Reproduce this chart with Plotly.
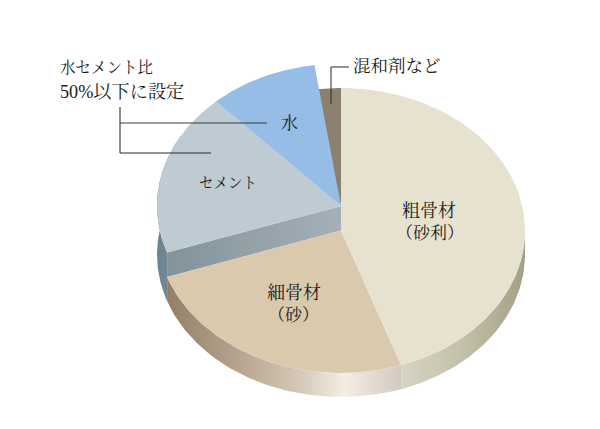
import numpy as np
import plotly.graph_objects as go

# concrete mix shares (%), clockwise from 12 o'clock
categories = ["粗骨材", "細骨材", "セメント", "水", "混和剤など"]
shares = [44.7, 25.0, 18.4, 9.6, 2.3]
top_colors = ["#e7e2d0", "#dbc9ae", "#bfcbd2", "#95bde6", "#8b806d"]

note_lines = ["水セメント比", "50%以下に設定"]

# pie geometry on the pixel-like axes
CX, RX, RY = 341, 184, 142.5
LOW_Y = 230.5    # top face of gravel / sand
RAISED_Y = 206   # top face of cement / water
BASE_Y = 254.5   # bottom of the cylinder

FONT = "Liberation Serif, Noto Serif CJK JP, Noto Sans CJK JP"
INK = "#1c1b1a"

edges = np.concatenate([[0], np.cumsum(shares)]) / np.sum(shares) * 360
fig = go.Figure()


def rim(t0, t1, cy):
    t = np.radians(np.linspace(t0, t1, 80))
    return CX + RX * np.sin(t), cy - RY * np.cos(t)


def add_poly(xs, ys, color=None, scale=None):
    trace = dict(x=xs, y=ys, mode="lines", fill="toself", line=dict(width=0),
                 hoverinfo="skip", showlegend=False)
    if scale:
        trace["fillgradient"] = dict(type="horizontal", colorscale=scale)
    else:
        trace["fillcolor"] = color
    fig.add_trace(go.Scatter(**trace))


def add_wall(t0, t1, top_y, scale):
    x1, y1 = rim(t0, t1, top_y)
    x2, y2 = rim(t1, t0, BASE_Y)
    add_poly(np.r_[x1, x2], np.r_[y1, y2], scale=scale)


def add_face(t0, t1, cy, color, apex_y=None):
    xs, ys = rim(t0, t1, cy)
    add_poly(np.r_[CX, xs], np.r_[cy if apex_y is None else apex_y, ys], color=color)


# outer walls
add_wall(90, edges[1], LOW_Y, [[0, "#d6d4c3"], [0.5, "#c3c0a9"], [1, "#a3a085"]])
add_wall(edges[1], edges[2], LOW_Y,
         [[0, "#937f67"], [0.3, "#b5a48e"], [0.55, "#d2c6b4"], [0.76, "#f4eee4"], [1, "#d2c8bf"]])
add_wall(edges[2], 300, RAISED_Y, [[0, "#6c818e"], [1, "#7f939f"]])

# cut face between the raised cement and the sand
xa, ya = rim(edges[2], edges[2], RAISED_Y)
xb, yb = rim(edges[2], edges[2], LOW_Y)
add_poly([CX, xa[0], xb[0], CX], [RAISED_Y, ya[0], yb[0], LOW_Y],
         scale=[[0, "#83939b"], [1, "#a5b0b8"]])

# top faces
add_face(edges[4], 360, LOW_Y, top_colors[4], apex_y=RAISED_Y)
add_face(edges[1], edges[2], LOW_Y, top_colors[1])
add_face(edges[0], edges[1], LOW_Y, top_colors[0])
add_face(edges[2], edges[3], RAISED_Y, top_colors[2])
add_face(edges[3], edges[4], RAISED_Y, top_colors[3])

# leader lines
leaders = [
    ([120, 120], [107, 153], "#666666", 1.5),
    ([120, 267], [123, 123], "#3a3a3a", 1),
    ([120, 211], [153, 153], "#2b2a28", 1),
    ([331, 331, 349], [104, 67, 67], "#2b2a28", 1),
]
for xs, ys, col, w in leaders:
    fig.add_trace(go.Scatter(x=xs, y=ys, mode="lines", line=dict(color=col, width=w),
                             hoverinfo="skip", showlegend=False))

labels = [
    (428.5, 211, categories[0], 18, "center"),
    (430, 233, "（砂利）", 17, "center"),
    (293.5, 293, categories[1], 18, "center"),
    (293, 315, "（砂）", 17, "center"),
    (227.5, 183, categories[2], 14.5, "center"),
    (289, 123, categories[3], 17, "center"),
    (351, 66, categories[4], 17.5, "left"),
    (58, 67, note_lines[0], 15.5, "left"),
    (58, 91, note_lines[1], 18.2, "left"),
]
for x, y, txt, size, anchor in labels:
    fig.add_annotation(x=x, y=y, text=txt, showarrow=False, xanchor=anchor, yanchor="middle",
                       font=dict(family=FONT, size=size, color=INK))

fig.update_xaxes(range=[0, 600], visible=False, fixedrange=True)
fig.update_yaxes(range=[429, 0], visible=False, fixedrange=True)
fig.update_layout(width=600, height=429, margin=dict(l=0, r=0, t=0, b=0),
                  paper_bgcolor="white", plot_bgcolor="white", showlegend=False)

# drop the browser's default page margin so the plot sits at 0,0
fig.write_html("out.html", config={"displayModeBar": False},
               post_script="document.body.style.margin = '0';")
